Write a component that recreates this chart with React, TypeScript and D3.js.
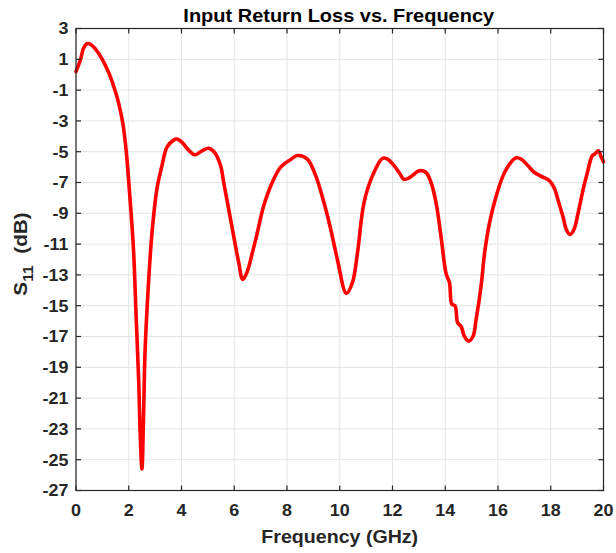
import React from "react";
import * as d3 from "d3";

const freqGHz = [
  0, 0.18, 0.28, 0.4, 0.52, 0.72, 0.98, 1.23, 1.42, 1.61, 1.78, 1.9, 2.05, 2.18, 2.28, 2.38, 2.43, 2.5,
  2.56, 2.62, 2.75, 2.88, 3.07, 3.26, 3.45, 3.7, 3.83, 4.02, 4.27, 4.5, 4.78, 5.03, 5.25, 5.48, 5.6,
  5.79, 5.98, 6.17, 6.32, 6.49, 6.68, 6.87, 7.12, 7.44, 7.76, 8.14, 8.4, 8.77, 9.09, 9.4, 9.66, 9.91,
  10.25, 10.48, 10.67, 10.92, 11.24, 11.62, 11.81, 12.06, 12.25, 12.44, 12.63, 12.82, 13.01, 13.27,
  13.46, 13.65, 13.84, 14.03, 14.16, 14.25, 14.37, 14.47, 14.6, 14.73, 14.88, 15.05, 15.17, 15.36,
  15.49, 15.68, 15.93, 16.19, 16.44, 16.69, 16.88, 17.13, 17.38, 17.64, 17.96, 18.15, 18.27, 18.46,
  18.59, 18.73, 18.88, 19.04, 19.23, 19.39, 19.57, 19.67, 19.8, 19.92, 20.0,
];

const s11dB = [
  0.2, 1.04, 1.7, 2.0, 2.0, 1.7, 1.04, 0.17, -0.7, -1.8, -3.2, -4.9, -8.1, -11.35, -15.7, -20.0, -23.1, -25.6,
  -22.2, -17.9, -13.5, -10.3, -7.4, -5.9, -4.7, -4.25, -4.18, -4.4, -4.9, -5.2, -4.94, -4.78, -5.05, -5.9, -7.0,
  -8.74, -10.5, -12.2, -13.3, -12.8, -11.6, -10.3, -8.5, -7.0, -6.0, -5.5, -5.25, -5.48, -6.57, -8.3, -10.05, -12.0,
  -14.2, -13.5, -11.6, -8.3, -6.57, -5.43, -5.48, -5.9, -6.35, -6.8, -6.7, -6.46, -6.24, -6.35,
  -7.0, -8.3, -10.5, -12.9, -13.5, -14.9, -15.0, -16.1, -16.35, -17.0, -17.3, -17.0, -15.9, -13.7,
  -11.6, -9.6, -7.9, -6.57, -5.8, -5.4, -5.48, -5.9, -6.35, -6.6, -6.9, -7.43, -8.1, -9.2,
  -10.05, -10.37, -10.05, -8.96, -7.43, -6.35, -5.27, -5.15, -4.94, -5.37, -5.66,
];

const xTicks = [0, 2, 4, 6, 8, 10, 12, 14, 16, 18, 20];
const yTicks = [3, 1, -1, -3, -5, -7, -9, -11, -13, -15, -17, -19, -21, -23, -25, -27];

const titleText = "Input Return Loss vs. Frequency";
const xLabelText = "Frequency (GHz)";

export default function App() {
  const W = 616;
  const H = 553;
  const left = 76;
  const right = 603.5;
  const top = 28.5;
  const bottom = 490.5;

  const x = d3.scaleLinear().domain([0, 20]).range([left, right]);
  const y = d3.scaleLinear().domain([-27, 3]).range([bottom, top]);

  const pts: [number, number][] = freqGHz.map((f, i) => [f, s11dB[i]]);
  const line = d3
    .line<[number, number]>()
    .x((d) => x(d[0]))
    .y((d) => y(d[1]))
    .curve(d3.curveCatmullRom.alpha(0.5));

  const font = "'Liberation Sans', Arial, Helvetica, sans-serif";
  const axisColor = "#262626";
  const gridColor = "#e3e3e3";
  const tickLen = 5;
  const tickFs = 16;
  const tickSx = 1.12;

  return (
    <svg
      width={W}
      height={H}
      style={{ position: "absolute", left: 0, top: 0, background: "#fff" }}
      fontFamily={font}
    >
      <rect x={0} y={0} width={W} height={H} fill="#fff" />
      {/* grid */}
      {xTicks.map((t) => (
        <line key={"gx" + t} x1={x(t)} x2={x(t)} y1={top} y2={bottom} stroke={gridColor} strokeWidth={1} />
      ))}
      {yTicks.map((t) => (
        <line key={"gy" + t} x1={left} x2={right} y1={y(t)} y2={y(t)} stroke={gridColor} strokeWidth={1} />
      ))}
      {/* data line */}
      <path d={line(pts) || ""} fill="none" stroke="#ff0000" strokeWidth={3.6} strokeLinejoin="round" strokeLinecap="round" />
      {/* box */}
      <rect x={left} y={top} width={right - left} height={bottom - top} fill="none" stroke={axisColor} strokeWidth={1.2} />
      {/* ticks */}
      {xTicks.map((t) => (
        <g key={"tx" + t}>
          <line x1={x(t)} x2={x(t)} y1={bottom} y2={bottom - tickLen} stroke={axisColor} strokeWidth={1.2} />
          <line x1={x(t)} x2={x(t)} y1={top} y2={top + tickLen} stroke={axisColor} strokeWidth={1.2} />
          <text
            transform={`translate(${x(t)}, ${bottom + 25}) scale(${tickSx}, 1)`}
            textAnchor="middle"
            fontSize={tickFs}
            fontWeight="bold"
            fill={axisColor}
          >
            {t}
          </text>
        </g>
      ))}
      {yTicks.map((t) => (
        <g key={"ty" + t}>
          <line x1={left} x2={left + tickLen} y1={y(t)} y2={y(t)} stroke={axisColor} strokeWidth={1.2} />
          <line x1={right} x2={right - tickLen} y1={y(t)} y2={y(t)} stroke={axisColor} strokeWidth={1.2} />
          <text
            transform={`translate(${left - 7.5}, ${y(t) + 5.8}) scale(${tickSx}, 1)`}
            textAnchor="end"
            fontSize={tickFs}
            fontWeight="bold"
            fill={axisColor}
          >
            {t}
          </text>
        </g>
      ))}
      {/* title */}
      <text
        transform={`translate(${(left + right) / 2 - 1}, 21.7) scale(1.08, 1)`}
        textAnchor="middle"
        fontSize={18.5}
        fontWeight="bold"
        fill="#000"
      >
        {titleText}
      </text>
      {/* x label */}
      <text
        transform={`translate(${(left + right) / 2}, 543) scale(1.06, 1)`}
        textAnchor="middle"
        fontSize={18.5}
        fontWeight="bold"
        fill={axisColor}
      >
        {xLabelText}
      </text>
      {/* y label */}
      <text
        transform={`translate(27, 254) rotate(-90) scale(1.12, 1)`}
        textAnchor="middle"
        fontSize={18.5}
        fontWeight="bold"
        fill={axisColor}
      >
        <tspan>S</tspan>
        <tspan fontSize={14} dy={6}>11</tspan>
        <tspan dy={-6}>{"\u00a0\u00a0(dB)"}</tspan>
      </text>
    </svg>
  );
}
